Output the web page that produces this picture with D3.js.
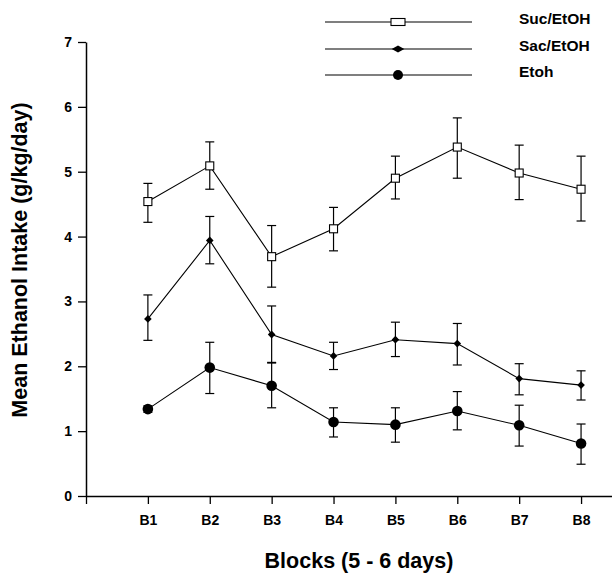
<!DOCTYPE html>
<html>
<head>
<meta charset="utf-8">
<script src="https://cdn.jsdelivr.net/npm/d3@7"></script>
<style>
  body { margin: 0; background: #fff; }
  svg { display: block; font-family: "Liberation Sans", Arial, sans-serif; }
</style>
</head>
<body>
<div id="chart"></div>
<script>
// data
const blocks = ["B1", "B2", "B3", "B4", "B5", "B6", "B7", "B8"];
const yTicks = [0, 1, 2, 3, 4, 5, 6, 7];

const sucMean = [4.54, 5.09, 3.69, 4.12, 4.90, 5.38, 4.98, 4.73];
const sucHi   = [4.82, 5.46, 4.17, 4.45, 5.24, 5.83, 5.41, 5.24];
const sucLo   = [4.22, 4.73, 3.22, 3.78, 4.58, 4.90, 4.57, 4.24];

const sacMean = [2.73, 3.94, 2.49, 2.16, 2.41, 2.35, 1.81, 1.71];
const sacHi   = [3.10, 4.31, 2.93, 2.37, 2.68, 2.66, 2.04, 1.93];
const sacLo   = [2.40, 3.58, 2.06, 1.95, 2.15, 2.02, 1.56, 1.48];

const etohMean = [1.34, 1.98, 1.70, 1.14, 1.10, 1.31, 1.09, 0.81];
const etohHi   = [1.39, 2.37, 2.05, 1.36, 1.36, 1.61, 1.40, 1.11];
const etohLo   = [1.29, 1.58, 1.36, 0.91, 0.83, 1.02, 0.77, 0.49];

const seriesNames = ["Suc/EtOH", "Sac/EtOH", "Etoh"];

const W = 612, H = 575;
const svg = d3.select("#chart").append("svg").attr("width", W).attr("height", H);

const x = d3.scaleLinear().domain([0, 8.5]).range([86, 612]);
const y = d3.scaleLinear().domain([0, 7]).range([496, 42]);

// y axis
const yAxis = svg.append("g").attr("transform", `translate(${x(0)},0)`)
  .call(d3.axisLeft(y).tickValues(yTicks).tickFormat(d3.format("d")).tickSize(8).tickSizeOuter(0).tickPadding(6));
yAxis.select(".domain").attr("stroke-width", 1.5);
yAxis.selectAll(".tick line").attr("stroke-width", 1.3);
yAxis.selectAll("text").attr("font-size", 14).attr("font-weight", "bold").attr("fill", "#000");

// x axis
const xAxis = svg.append("g").attr("transform", `translate(0,${y(0)})`)
  .call(d3.axisBottom(x).tickValues(d3.range(0, blocks.length + 1))
    .tickFormat(i => i === 0 ? "" : blocks[i - 1]).tickSize(8).tickSizeOuter(0).tickPadding(11));
xAxis.select(".domain").attr("stroke-width", 1.5);
xAxis.selectAll(".tick line").attr("stroke-width", 1.3);
xAxis.selectAll("text").attr("font-size", 14).attr("font-weight", "bold").attr("fill", "#000");

// axis titles
svg.append("text").attr("x", 359).attr("y", 568).attr("text-anchor", "middle")
  .attr("font-size", 21.5).attr("font-weight", "bold").text("Blocks (5 - 6 days)");
svg.append("text").attr("transform", "translate(27,260) rotate(-90)").attr("text-anchor", "middle")
  .attr("font-size", 21.5).attr("font-weight", "bold").text("Mean Ethanol Intake (g/kg/day)");

function drawSeries(mean, hi, lo, marker) {
  const g = svg.append("g");
  const line = d3.line().x((d, i) => x(i + 1)).y(d => y(d));
  g.append("path").attr("d", line(mean)).attr("fill", "none").attr("stroke", "#000").attr("stroke-width", 1.1);
  const bars = g.selectAll(".eb").data(mean).enter().append("g");
  bars.append("line").attr("x1", (d, i) => x(i + 1)).attr("x2", (d, i) => x(i + 1))
    .attr("y1", (d, i) => y(hi[i])).attr("y2", (d, i) => y(lo[i])).attr("stroke", "#000").attr("stroke-width", 1.2);
  [hi, lo].forEach(arr => {
    bars.append("line").attr("x1", (d, i) => x(i + 1) - 4.5).attr("x2", (d, i) => x(i + 1) + 4.5)
      .attr("y1", (d, i) => y(arr[i])).attr("y2", (d, i) => y(arr[i])).attr("stroke", "#000").attr("stroke-width", 1.2);
  });
  mean.forEach((d, i) => marker(g, x(i + 1), y(d), false));
}

function square(g, cx, cy, legend) {
  const w = legend ? 14 : 8, h = legend ? 7 : 8;
  g.append("rect").attr("x", cx - w / 2).attr("y", cy - h / 2).attr("width", w).attr("height", h)
    .attr("fill", "#fff").attr("stroke", "#000").attr("stroke-width", 1.1);
}
function diamond(g, cx, cy, legend) {
  const w = legend ? 6.3 : 3.8, h = legend ? 3.6 : 3.9;
  g.append("path").attr("d", `M${cx - w},${cy}L${cx},${cy - h}L${cx + w},${cy}L${cx},${cy + h}Z`).attr("fill", "#000");
}
function dot(g, cx, cy, legend) {
  g.append("circle").attr("cx", cx).attr("cy", cy).attr("r", legend ? 5 : 5.3).attr("fill", "#000");
}

drawSeries(etohMean, etohHi, etohLo, dot);
drawSeries(sacMean, sacHi, sacLo, diamond);
drawSeries(sucMean, sucHi, sucLo, square);

// legend
const markers = [square, diamond, dot];
const legendY = [22, 49, 75];
const lg = svg.append("g");
seriesNames.forEach((name, k) => {
  lg.append("line").attr("x1", 325).attr("x2", 472).attr("y1", legendY[k]).attr("y2", legendY[k])
    .attr("stroke", "#000").attr("stroke-width", 1.1);
  markers[k](lg, 398, legendY[k], true);
  lg.append("text").attr("x", 519).attr("y", legendY[k] + 1.5).attr("font-size", 15.5).attr("font-weight", "bold").text(name);
});
</script>
</body>
</html>
